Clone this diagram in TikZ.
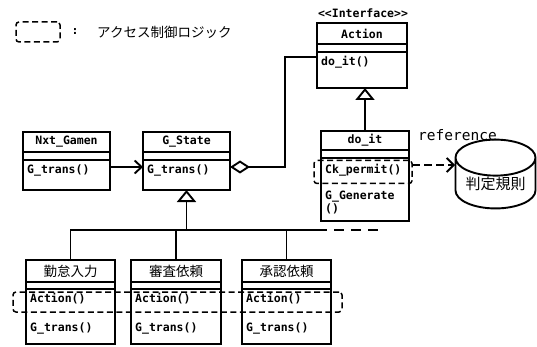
\documentclass[tikz,border=0pt]{standalone}
\usepackage{fontspec}
\usetikzlibrary{arrows.meta,shapes.geometric}
\newfontfamily\monofam{DejaVu Sans Mono}
\newfontfamily\cjkfam{Noto Sans CJK JP}
\newcommand\umltt{\fontsize{11.5}{13}\selectfont\monofam\bfseries}
\newcommand\umljp{\fontsize{13.5}{15}\selectfont\cjkfam}
\begin{document}
\begin{tikzpicture}[x=1pt,y=-1pt,
  uml/.style={draw, line width=1.9pt, inner sep=0pt, outer sep=0pt},
  nm/.style={uml, font=\umltt},
  nmjp/.style={uml, font=\umljp},
  mtxt/.style={anchor=west, inner sep=0pt, font=\umltt},
  ctrl/.style={draw, line width=1.5pt, dash pattern=on 6pt off 3.5pt, rounded corners=3pt, inner sep=0pt},
  line/.style={line width=1.9pt},
  navarrow/.style={line, -{Straight Barb[length=7pt,width=13pt]}},
  realize/.style={line, -{Triangle[open,length=12pt,width=19pt]}},
  aggr/.style={line, {Diamond[open,length=20pt,width=13pt]}-}
]
\useasboundingbox (0,0) rectangle (537,347);

% legend
\node[ctrl, minimum width=44pt, minimum height=20pt] (leg) at (38,32) {};
\node[font=\umltt, inner sep=0pt] (legc) at (75,32) {:};
\node[anchor=west, font=\umljp, inner sep=0pt] (legt) at (97,32) {アクセス制御ロジック};

% Action interface
\node[font=\umltt, inner sep=0pt] (ster) at (363,13) {<{}<Interface>{}>};
\node[nm, anchor=north west, minimum width=90pt, minimum height=21pt] (actn) at (317,23) {Action};
\node[uml, anchor=north, minimum width=90pt, minimum height=8pt] (acta) at (actn.south) {};
\node[uml, anchor=north, minimum width=90pt, minimum height=36pt] (actm) at (acta.south) {};
\node[mtxt] (actm1) at (321,62) {do\_it()};

% do_it
\node[nm, anchor=north west, minimum width=88pt, minimum height=19pt] (don) at (321,131) {do\_it};
\node[uml, anchor=north, minimum width=88pt, minimum height=8pt] (doa) at (don.south) {};
\node[uml, anchor=north, minimum width=88pt, minimum height=63pt] (dom) at (doa.south) {};
\node[mtxt] (dom1) at (325,170) {Ck\_permit()};
\node[mtxt] (dom2) at (325,197) {G\_Generate};
\node[mtxt] (dom3) at (325,209) {()};
\node[ctrl, minimum width=98pt, minimum height=23pt] (ckbox) at (363,172) {};

% Nxt_Gamen
\node[nm, anchor=north west, minimum width=87pt, minimum height=20pt] (nxn) at (23,132) {Nxt\_Gamen};
\node[uml, anchor=north, minimum width=87pt, minimum height=8pt] (nxa) at (nxn.south) {};
\node[uml, anchor=north, minimum width=87pt, minimum height=30pt] (nxm) at (nxa.south) {};
\node[mtxt] (nxm1) at (27,170) {G\_trans()};

% G_State
\node[nm, anchor=north west, minimum width=87pt, minimum height=20pt] (gsn) at (143,132) {G\_State};
\node[uml, anchor=north, minimum width=87pt, minimum height=8pt] (gsa) at (gsn.south) {};
\node[uml, anchor=north, minimum width=87pt, minimum height=30pt] (gsm) at (gsa.south) {};
\node[mtxt] (gsm1) at (147,170) {G\_trans()};

% rule storage
\node[cylinder, shape border rotate=90, draw, line width=1.9pt, minimum width=80pt, minimum height=63pt, aspect=0.6, inner sep=0pt, font=\fontsize{15}{17}\selectfont\cjkfam] (rule) at (495.5,183.5) {判定規則};
\node[anchor=west, inner sep=0pt, font=\fontsize{14.5}{16}\selectfont\monofam] (reflab) at (418,135) {reference};

% bottom classes
\node[nmjp, anchor=north west, minimum width=89pt, minimum height=22pt] (b1n) at (26,260) {勤怠入力};
\node[uml, anchor=north, minimum width=89pt, minimum height=7pt] (b1a) at (b1n.south) {};
\node[uml, anchor=north, minimum width=89pt, minimum height=55pt] (b1m) at (b1a.south) {};
\node[mtxt] (b1m1) at (30,299) {Action()};
\node[mtxt] (b1m2) at (30,328) {G\_trans()};

\node[nmjp, anchor=north west, minimum width=90pt, minimum height=22pt] (b2n) at (131,260) {審査依頼};
\node[uml, anchor=north, minimum width=90pt, minimum height=7pt] (b2a) at (b2n.south) {};
\node[uml, anchor=north, minimum width=90pt, minimum height=55pt] (b2m) at (b2a.south) {};
\node[mtxt] (b2m1) at (135,299) {Action()};
\node[mtxt] (b2m2) at (135,328) {G\_trans()};

\node[nmjp, anchor=north west, minimum width=89pt, minimum height=22pt] (b3n) at (242,260) {承認依頼};
\node[uml, anchor=north, minimum width=89pt, minimum height=7pt] (b3a) at (b3n.south) {};
\node[uml, anchor=north, minimum width=89pt, minimum height=55pt] (b3m) at (b3a.south) {};
\node[mtxt] (b3m1) at (246,299) {Action()};
\node[mtxt] (b3m2) at (246,328) {G\_trans()};

\node[ctrl, minimum width=329pt, minimum height=20pt] (actbox) at (177.5,302) {};

% connectors
\coordinate (navY) at (0,167);
\draw[navarrow] (nxm.east |- navY) -- (gsm.west |- navY);

\coordinate (knee) at (285,57);
\draw[aggr] (gsm.east |- navY) -| (knee) -- (actm.west |- knee);

\draw[realize] (don.north) -- (don.north |- actm.south);

\coordinate (ckR) at (412,165);
\coordinate (ruleIn) at (455,165);
\draw[line, dash pattern=on 8pt off 4pt, -{Straight Barb[length=7pt,width=14pt]}] (ckR) -- (ruleIn);

\coordinate (bar) at (0,230);
\coordinate (barEnd) at (327,230);
\coordinate (barDash) at (380,230);
\draw[realize] (gsm.south |- bar) -- (gsm.south);
\draw[line] (b1n.north) -- (b1n.north |- bar) -- (barEnd);
\draw[line, dash pattern=on 10pt off 7pt] (barEnd) ++(7,0) -- (barDash);
\draw[line] (b2n.north) -- (b2n.north |- bar);
\draw[line] (b3n.north) -- (b3n.north |- bar);
\end{tikzpicture}
\end{document}
